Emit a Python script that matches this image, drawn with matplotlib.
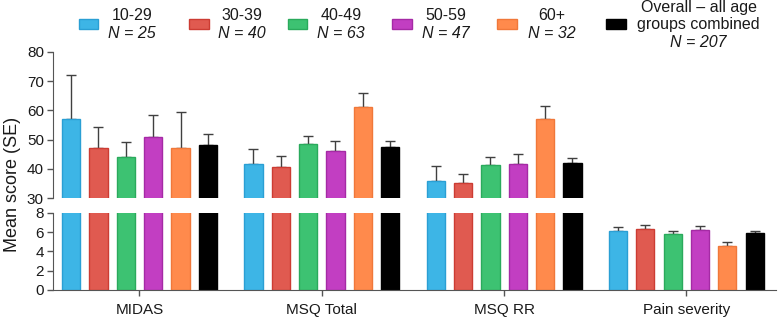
import numpy as np
import matplotlib
matplotlib.use("Agg")
import matplotlib.pyplot as plt
from matplotlib.patches import Rectangle

plt.rcParams["font.family"] = ["Liberation Sans", "DejaVu Sans"]

categories = ["MIDAS", "MSQ Total", "MSQ RR", "Pain severity"]
groups = ["10-29", "30-39", "40-49", "50-59", "60+", "Overall \u2013 all age\ngroups combined"]
group_n = [25, 40, 63, 47, 32, 207]

# mean score per group, one value per category
means = [
    [57.2, 41.6, 35.7, 6.10],
    [47.2, 40.6, 35.0, 6.34],
    [43.9, 48.6, 41.4, 5.79],
    [50.8, 46.0, 41.5, 6.20],
    [47.2, 61.1, 57.1, 4.55],
    [48.3, 47.6, 42.0, 5.90],
]
# standard errors (upper bar only)
ses = [
    [14.8, 5.2, 5.3, 0.38],
    [7.2, 3.7, 3.3, 0.38],
    [5.3, 2.6, 2.7, 0.31],
    [7.5, 3.4, 3.7, 0.42],
    [12.1, 4.8, 4.5, 0.45],
    [3.7, 1.8, 1.7, 0.17],
]
top_ticks = [30, 40, 50, 60, 70, 80]
bottom_ticks = [0, 2, 4, 6, 8]

face = ["#3db5e6", "#e05a50", "#3dc272", "#c23ec2", "#ff8a4c", "#000000"]
edge = ["#2a9fd4", "#cc3c33", "#2aaa5c", "#a52aa5", "#f0783a", "#000000"]
err_col = "#404040"
axis_col = "#555555"
txt_col = "#1a1a1a"

fig = plt.figure(figsize=(7.78, 3.19), dpi=100)
ax_top = fig.add_axes([0.068, 0.379, 0.929, 0.458])
ax_bot = fig.add_axes([0.068, 0.091, 0.929, 0.242])

x = np.arange(len(categories))
step = 0.15
width = 0.10
for ax in (ax_top, ax_bot):
    for i in range(len(groups)):
        pos = x + (i - 2.5) * step
        ax.bar(pos, means[i], width, color=face[i], edgecolor=edge[i],
               linewidth=1.0, zorder=2)
        ax.errorbar(pos, means[i], yerr=[np.zeros(len(categories)), ses[i]],
                    fmt="none", ecolor=err_col, elinewidth=1.0,
                    capsize=3.5, capthick=1.0, zorder=1)
    ax.set_xlim(-0.475, 3.49)
    for s in ("top", "right"):
        ax.spines[s].set_visible(False)
    ax.spines["left"].set_color(axis_col)
    ax.spines["bottom"].set_color(axis_col)
    ax.tick_params(axis="both", colors=axis_col, labelcolor=txt_col,
                   labelsize=11, length=4.5, width=1.0, pad=2)

ax_top.set_ylim(30, 80)
ax_top.set_yticks(top_ticks)
ax_top.spines["bottom"].set_visible(False)
ax_top.set_xticks([])

ax_bot.set_ylim(0, 8)
ax_bot.set_yticks(bottom_ticks)
ax_bot.set_xticks(x)
ax_bot.set_xticklabels(categories, fontsize=11)
ax_bot.tick_params(axis="x", pad=5)

fig.text(0.016, 0.423, "Mean score (SE)", rotation=90, ha="center",
         va="center", fontsize=13, color=txt_col)

# legend drawn by hand: patch + label + italic N underneath
patch_x = [0.101, 0.243, 0.370, 0.504, 0.639, 0.779]
text_x = [0.170, 0.311, 0.438, 0.573, 0.709, 0.898]
for i, g in enumerate(groups):
    fig.patches.append(Rectangle((patch_x[i], 0.910), 0.025, 0.031,
                                 transform=fig.transFigure,
                                 facecolor=face[i], edgecolor=edge[i],
                                 linewidth=1.0))
    if i < len(groups) - 1:
        fig.text(text_x[i], 0.950, g, ha="center", va="center",
                 fontsize=11.5, color=txt_col)
        fig.text(text_x[i], 0.895, f"N = {group_n[i]}", ha="center",
                 va="center", fontsize=11.5, style="italic", color=txt_col)
    else:
        fig.text(text_x[i], 0.950, g, ha="center", va="center",
                 fontsize=11.5, color=txt_col, linespacing=1.15)
        fig.text(text_x[i], 0.868, f"N = {group_n[i]}", ha="center",
                 va="center", fontsize=11.5, style="italic", color=txt_col)

fig.savefig("out.png", dpi=100)
